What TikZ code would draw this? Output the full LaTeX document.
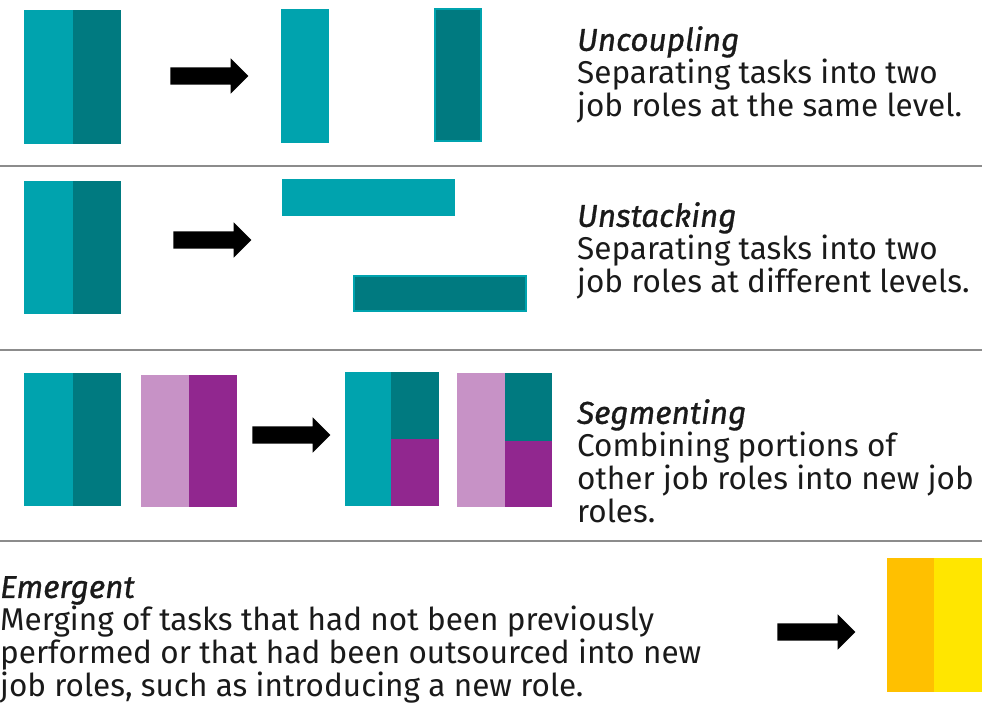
\documentclass[tikz,border=0pt]{standalone}
\usepackage{fontspec}
\setmainfont{Fira Sans}[ItalicFeatures={FakeBold=1}]
\usetikzlibrary{shapes.arrows}
\definecolor{ink}{HTML}{1A1A1A}
\definecolor{tealA}{HTML}{00A3AE}
\definecolor{tealB}{HTML}{007A80}
\definecolor{lilacA}{HTML}{C792C6}
\definecolor{lilacB}{HTML}{91278F}
\definecolor{goldA}{HTML}{FFC000}
\definecolor{goldB}{HTML}{FFE600}
\definecolor{rule}{HTML}{8C8C8C}
\tikzset{
  fatarrow/.style={single arrow, fill=black, draw=none, inner xsep=0pt,
    inner ysep=8.5pt, minimum height=78pt, single arrow head extend=9pt},
  sep/.style={draw=rule, line width=2pt},
  edge/.style={draw=tealA, line width=1.5pt},
  desc/.style={text=ink, anchor=north west, align=left, inner sep=0pt,
    font=\fontsize{31.5}{33}\selectfont},
}
\begin{document}
\begin{tikzpicture}[x=1pt, y=-1pt]
  \useasboundingbox (0,0) rectangle (982,704);
  % uncoupling
  \fill[tealA] (24,10) rectangle (73,144);
  \fill[tealB] (73,10) rectangle (121,144);
  \node[fatarrow] (a1) at (205,76) {};
  \fill[tealA] (281,9) rectangle (329,143);
  \filldraw[tealB, edge] (435,9) rectangle (481,141);
  \node[desc] (t1) at (577,26) {\textit{Uncoupling}\\Separating tasks into two\\job roles at the same level.};
  \draw[sep] (0,166) -- (982,166);
  % unstacking
  \fill[tealA] (24,181) rectangle (73,314);
  \fill[tealB] (73,181) rectangle (121,314);
  \node[fatarrow] (a2) at (208,240) {};
  \fill[tealA] (282,179) rectangle (455,216);
  \filldraw[tealB, edge] (354,276) rectangle (526,311);
  \node[desc] (t2) at (577,202) {\textit{Unstacking}\\Separating tasks into two\\job roles at different levels.};
  \draw[sep] (0,350) -- (982,350);
  % segmenting
  \fill[tealA] (24,373) rectangle (73,506);
  \fill[tealB] (73,373) rectangle (121,506);
  \fill[lilacA] (141,375) rectangle (189,507);
  \fill[lilacB] (189,375) rectangle (237,507);
  \node[fatarrow] (a3) at (287,435) {};
  \fill[tealA] (345,372) rectangle (391,506);
  \fill[tealB] (391,372) rectangle (439,439);
  \fill[lilacB] (391,439) rectangle (439,506);
  \fill[lilacA] (457,373) rectangle (505,507);
  \fill[tealB] (505,373) rectangle (552,441);
  \fill[lilacB] (505,441) rectangle (552,507);
  \node[desc] (t3) at (577,399) {\textit{Segmenting}\\Combining portions of\\other job roles into new job\\roles.};
  \draw[sep] (0,541) -- (982,541);
  % emergent
  \node[desc] (t4) at (0,576) {\textit{Emergent}\\Merging of tasks that had not been previously\\performed or that had been outsourced into new\\job roles, such as introducing a new role.};
  \node[fatarrow] (a4) at (812,632) {};
  \fill[goldA] (887,558) rectangle (934,692);
  \fill[goldB] (934,558) rectangle (982,692);
\end{tikzpicture}
\end{document}
